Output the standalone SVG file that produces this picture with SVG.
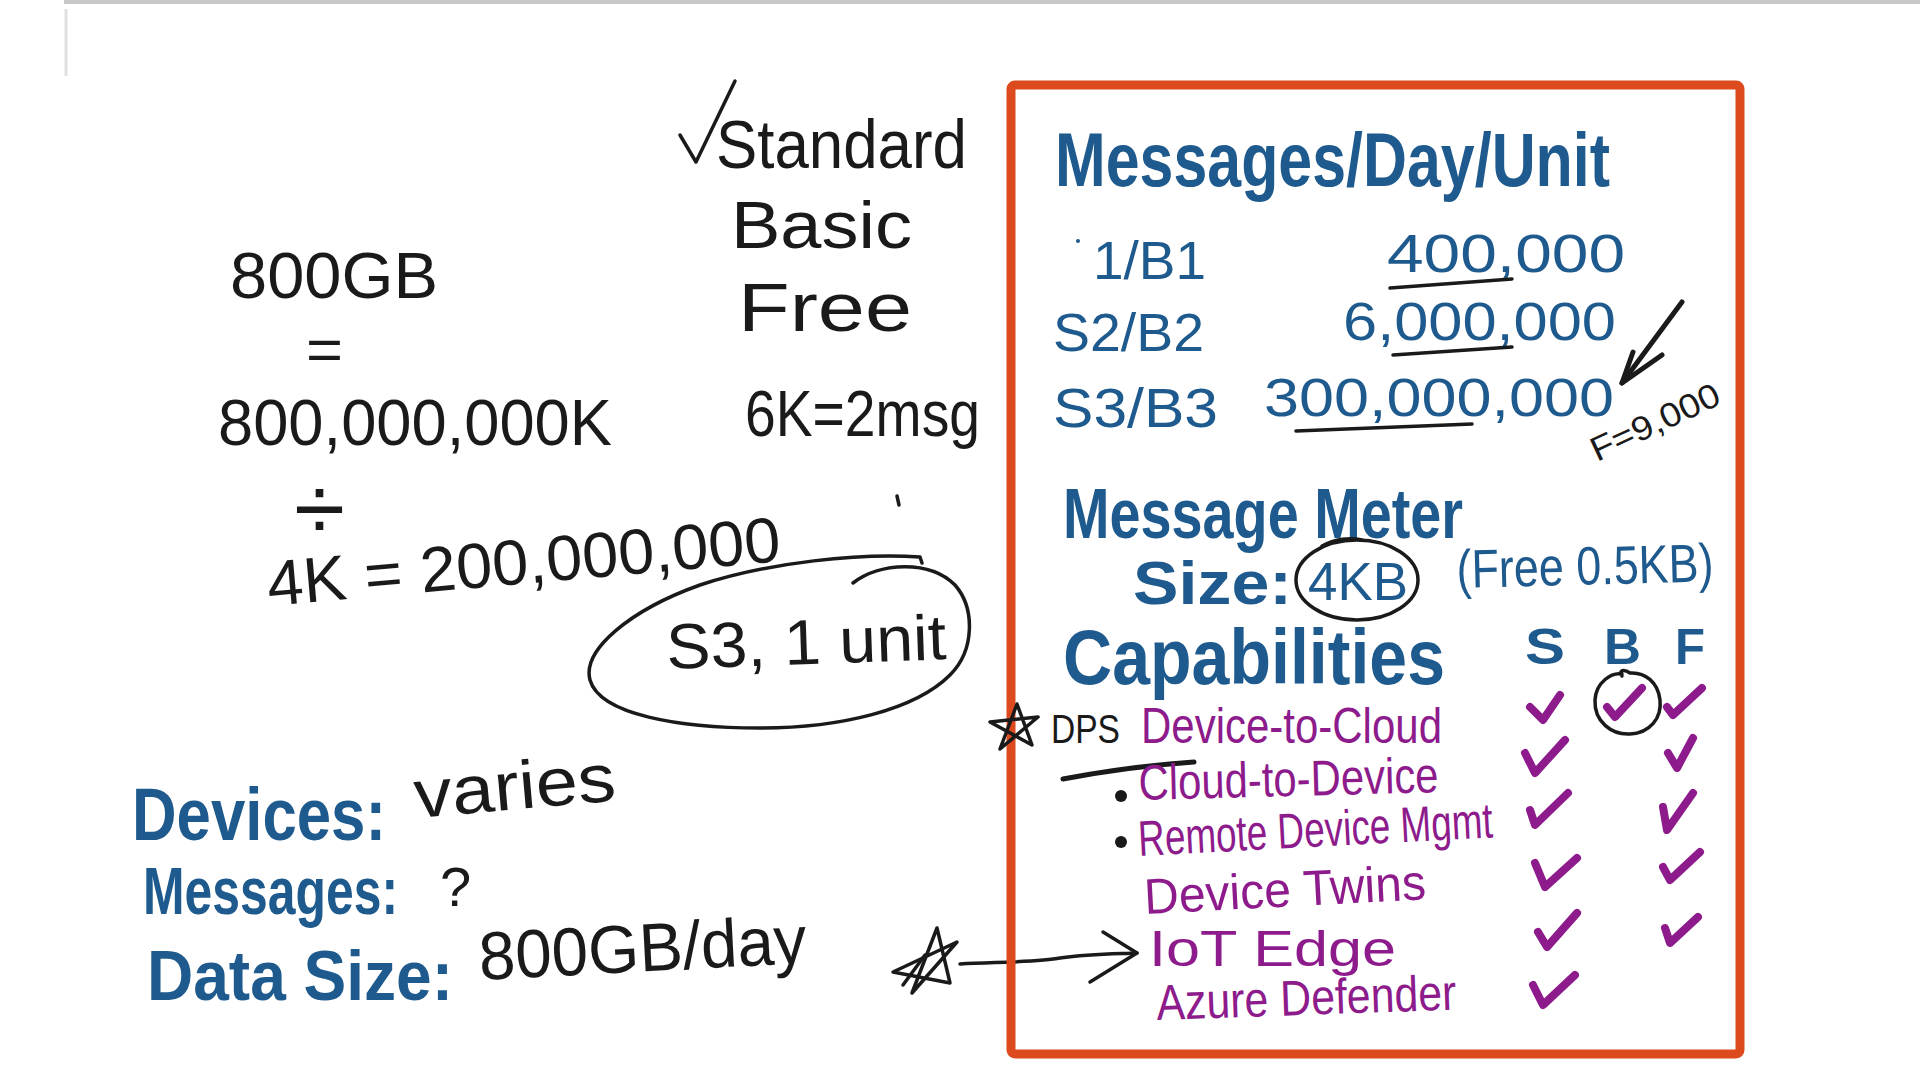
<svg xmlns="http://www.w3.org/2000/svg" width="1920" height="1080" viewBox="0 0 1920 1080">
<style>
  text{font-family:"Liberation Sans",Arial,sans-serif}
  .ink{fill:#1a1a1a}
  .blue{fill:#1e5a8d}
  .bold{font-weight:bold}
  .pur{fill:#8d1b8c}
  .line{fill:none;stroke:#1a1a1a;stroke-width:3.5;stroke-linecap:round;stroke-linejoin:round}
  .thick{fill:none;stroke:#1a1a1a;stroke-width:5;stroke-linecap:round;stroke-linejoin:round}
  .chk{fill:none;stroke:#8d1b8c;stroke-width:8;stroke-linecap:round;stroke-linejoin:round}
</style>
<rect x="0" y="0" width="1920" height="1080" fill="#ffffff"/>
<rect x="64" y="0" width="1856" height="4" fill="#c8c8c8"/>
<line x1="66" y1="9" x2="66" y2="76" stroke="#e0e0e0" stroke-width="3"/>

<g id="tiers">
  <path class="line" d="M680,135 L696,162 L735,81"/>
  <text class="ink" x="716" y="168" font-size="68" textLength="251" lengthAdjust="spacingAndGlyphs">Standard</text>
  <text class="ink" x="731" y="248" font-size="66" textLength="181" lengthAdjust="spacingAndGlyphs">Basic</text>
  <text class="ink" x="738" y="331" font-size="68" textLength="174" lengthAdjust="spacingAndGlyphs">Free</text>
  <text class="ink" x="745" y="436" font-size="64" textLength="235" lengthAdjust="spacingAndGlyphs">6K=2msg</text>
  <path class="line" d="M897,496 L899,505"/>
</g>

<g id="calc">
  <text class="ink" x="230" y="298" font-size="64" textLength="208" lengthAdjust="spacingAndGlyphs">800GB</text>
  <text class="ink" x="306" y="370" font-size="60" textLength="37" lengthAdjust="spacingAndGlyphs">=</text>
  <text class="ink" x="218" y="445" font-size="64" textLength="394" lengthAdjust="spacingAndGlyphs">800,000,000K</text>
  <text class="ink" x="294" y="540" font-size="90" textLength="51" lengthAdjust="spacingAndGlyphs">÷</text>
  <text class="ink" x="269" y="606" font-size="64" textLength="515" lengthAdjust="spacingAndGlyphs" transform="rotate(-5 269 606)">4K = 200,000,000</text>
</g>

<g id="s3-unit">
  <path class="line" d="M853,583 C880,562 930,560 955,585 C975,608 975,650 950,675 C915,710 840,728 760,728 C680,728 600,715 590,680 C582,650 630,610 700,585 C770,562 860,553 920,557 L922,563"/>
  <text class="ink" x="667" y="669" font-size="64" textLength="280" lengthAdjust="spacingAndGlyphs" transform="rotate(-2 667 669)">S3, 1 unit</text>
</g>

<g id="requirements">
  <text class="blue bold" x="132" y="840" font-size="74" textLength="254" lengthAdjust="spacingAndGlyphs">Devices:</text>
  <text class="ink" x="416" y="818" font-size="68" textLength="202" lengthAdjust="spacingAndGlyphs" transform="rotate(-5 416 818)">varies</text>
  <text class="blue bold" x="0" y="0" font-size="66" transform="translate(143 914) scale(0.756 1)">Messages:</text>
  <text class="ink" x="440" y="906" font-size="56">?</text>
  <text class="blue bold" x="147" y="1000" font-size="70" textLength="306" lengthAdjust="spacingAndGlyphs">Data Size:</text>
  <text class="ink" x="480" y="980" font-size="68" textLength="328" lengthAdjust="spacingAndGlyphs" transform="rotate(-3 480 980)">800GB/day</text>
</g>

<g id="connectors">
  <path class="line" d="M937,928 L912,993 L957,942 L893,972 L950,983 Z"/>
  <path class="line" d="M903,985 L925,955"/>
  <path class="line" d="M960,964 C1000,962 1040,962 1060,958 C1090,954 1115,954 1137,953"/>
  <path class="line" d="M1103,932 L1137,953 L1090,982"/>
  <path class="thick" d="M1682,302 L1622,383"/>
  <path class="thick" d="M1633,352 L1622,383 L1662,355"/>
</g>

<g id="panel">
  <rect x="1011" y="85" width="729" height="969" rx="4" fill="none" stroke="#dc4a1d" stroke-width="9"/>
</g>

<g id="messages-per-day">
  <text class="blue bold" x="1055" y="186" font-size="76" textLength="555" lengthAdjust="spacingAndGlyphs">Messages/Day/Unit</text>
  <circle cx="1078" cy="241" r="2" fill="#1e5a8d"/>
  <text class="blue" x="1093" y="279" font-size="54" textLength="113" lengthAdjust="spacingAndGlyphs">1/B1</text>
  <text class="blue" x="1387" y="272" font-size="54" textLength="238" lengthAdjust="spacingAndGlyphs">400,000</text>
  <path class="line" d="M1390,288 L1512,279"/>
  <text class="blue" x="1053" y="351" font-size="54" textLength="151" lengthAdjust="spacingAndGlyphs">S2/B2</text>
  <text class="blue" x="1343" y="340" font-size="54" textLength="273" lengthAdjust="spacingAndGlyphs">6,000,000</text>
  <path class="line" d="M1393,355 L1512,347"/>
  <text class="blue" x="1053" y="427" font-size="56" textLength="165" lengthAdjust="spacingAndGlyphs">S3/B3</text>
  <text class="blue" x="1264" y="416" font-size="54" textLength="350" lengthAdjust="spacingAndGlyphs">300,000,000</text>
  <path class="line" d="M1296,431 L1472,424"/>
  <text class="ink" x="1597" y="462" font-size="34" textLength="139" lengthAdjust="spacingAndGlyphs" transform="rotate(-25 1597 462)">F=9,000</text>
</g>

<g id="message-meter">
  <text class="blue bold" x="1063" y="538" font-size="70" textLength="400" lengthAdjust="spacingAndGlyphs">Message Meter</text>
  <text class="blue bold" x="1133" y="604" font-size="62" textLength="159" lengthAdjust="spacingAndGlyphs">Size:</text>
  <text class="blue" x="1308" y="600" font-size="54" textLength="100" lengthAdjust="spacingAndGlyphs">4KB</text>
  <ellipse class="line" cx="1357" cy="580" rx="61" ry="40"/>
  <path class="line" d="M1322,546 C1335,539 1350,537 1362,540"/>
  <text class="blue" x="1457" y="588" font-size="54" textLength="257" lengthAdjust="spacingAndGlyphs" transform="rotate(-1.5 1457 588)">(Free 0.5KB)</text>
</g>

<g id="capabilities">
  <text class="blue bold" x="1063" y="684" font-size="78" textLength="382" lengthAdjust="spacingAndGlyphs">Capabilities</text>
  <text class="blue bold" x="1525" y="664" font-size="50" textLength="40" lengthAdjust="spacingAndGlyphs">S</text>
  <text class="blue bold" x="1604" y="664" font-size="50" textLength="37" lengthAdjust="spacingAndGlyphs">B</text>
  <text class="blue bold" x="1675" y="664" font-size="50" textLength="30" lengthAdjust="spacingAndGlyphs">F</text>

  <path class="line" d="M1017,704 L1000,749 L1038,717 L990,722 L1032,745 Z"/>
  <text class="ink" x="1051" y="743" font-size="40" textLength="69" lengthAdjust="spacingAndGlyphs">DPS</text>
  <path class="thick" d="M1063,779 C1100,772 1150,765 1194,762"/>
  <circle cx="1121" cy="796" r="6" fill="#1a1a1a"/>
  <circle cx="1121" cy="842" r="6" fill="#1a1a1a"/>

  <text class="pur" x="1141" y="743" font-size="50" textLength="301" lengthAdjust="spacingAndGlyphs">Device-to-Cloud</text>
  <text class="pur" x="1139" y="800" font-size="50" textLength="300" lengthAdjust="spacingAndGlyphs" transform="rotate(-1.5 1139 800)">Cloud-to-Device</text>
  <text class="pur" x="1139" y="856" font-size="50" textLength="355" lengthAdjust="spacingAndGlyphs" transform="rotate(-3 1139 856)">Remote Device Mgmt</text>
  <text class="pur" x="1145" y="914" font-size="50" textLength="282" lengthAdjust="spacingAndGlyphs" transform="rotate(-3 1145 914)">Device Twins</text>
  <text class="pur" x="1149" y="966" font-size="50" textLength="247" lengthAdjust="spacingAndGlyphs">IoT Edge</text>
  <text class="pur" x="1157" y="1020" font-size="50" textLength="300" lengthAdjust="spacingAndGlyphs" transform="rotate(-2 1157 1020)">Azure Defender</text>

  <path class="chk" d="M1530,707 L1543,720 L1560,695"/>
  <path class="chk" d="M1607,707 L1615,717 L1642,688"/>
  <path class="line" d="M1622,674 C1612,672 1596,682 1595,700 C1594,722 1612,735 1630,734 C1650,733 1662,718 1660,700 C1658,682 1645,672 1630,673 C1624,669 1618,670 1622,676"/>
  <path class="chk" d="M1667,707 L1673,715 L1702,688"/>

  <path class="chk" d="M1525,753 L1535,773 L1565,740"/>
  <path class="chk" d="M1668,753 L1677,768 L1693,738"/>
  <path class="chk" d="M1530,810 L1535,825 L1568,793"/>
  <path class="chk" d="M1663,807 L1667,830 L1693,793"/>
  <path class="chk" d="M1535,863 L1545,887 L1577,858"/>
  <path class="chk" d="M1663,867 L1670,880 L1700,852"/>
  <path class="chk" d="M1538,932 L1547,947 L1577,913"/>
  <path class="chk" d="M1665,928 L1670,943 L1698,917"/>
  <path class="chk" d="M1533,985 L1543,1005 L1575,975"/>
</g>
</svg>
